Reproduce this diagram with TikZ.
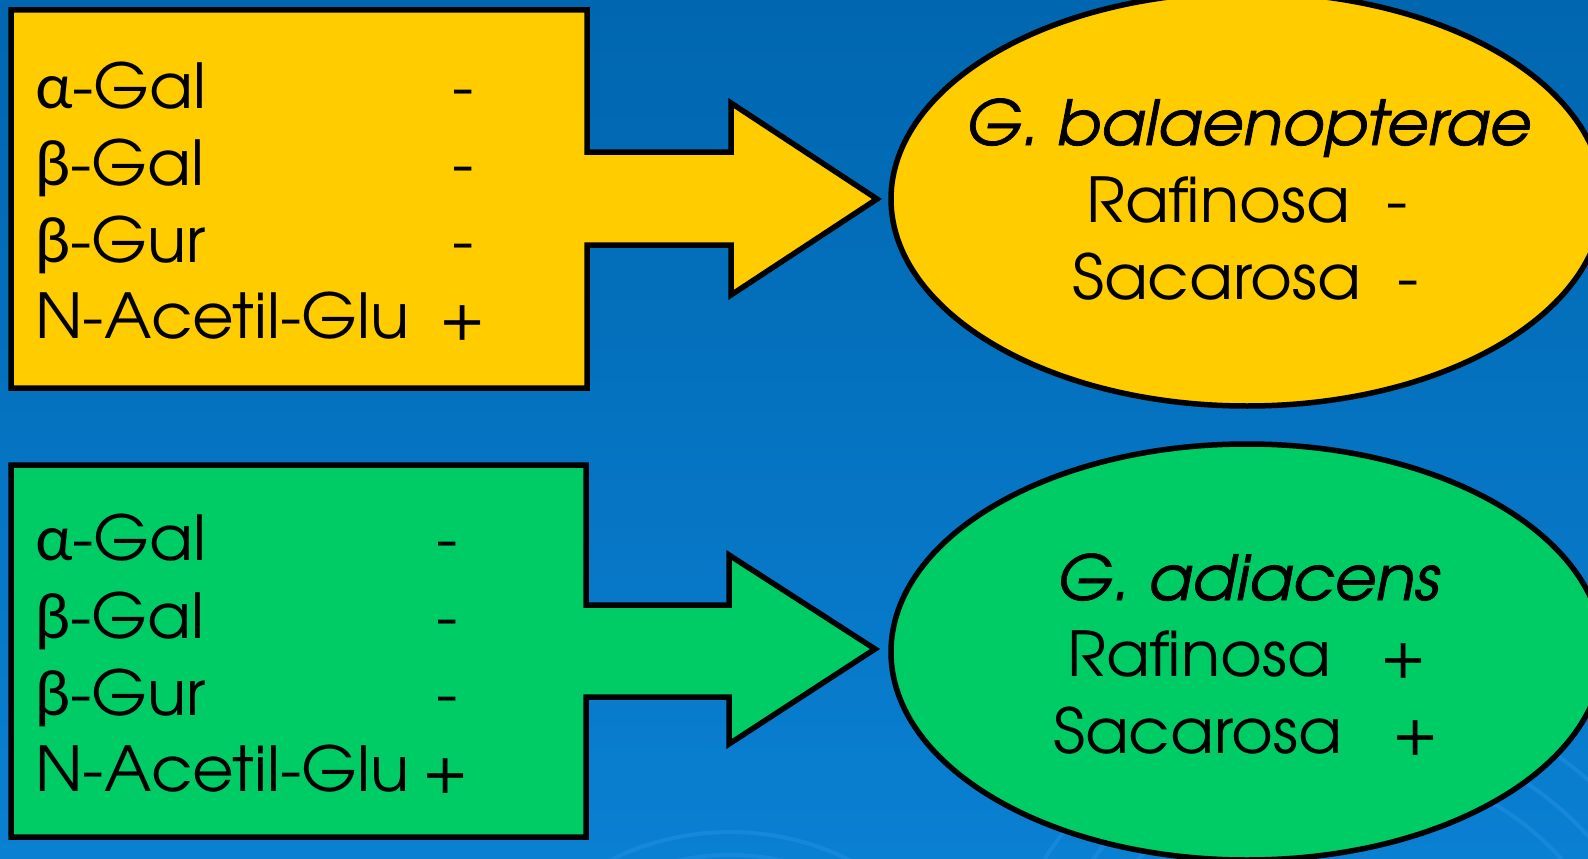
\documentclass[tikz,border=0pt]{standalone}
\usepackage{fontspec}
\setmainfont[FakeStretch=1.035,ItalicFeatures={FakeBold=1.2}]{TeX Gyre Adventor}
\newfontfamily\grk[FakeStretch=1.02]{Lato}
\usetikzlibrary{shapes.geometric}
\definecolor{bgtop}{HTML}{0066AF}
\definecolor{bgbot}{HTML}{0A80D2}
\definecolor{yel}{HTML}{FFCC00}
\definecolor{grn}{HTML}{00CC66}
\definecolor{swirl}{HTML}{2A96E8}
\begin{document}
\begin{tikzpicture}[x=1pt,y=-1pt,
  outl/.style={draw=black,line width=5.5pt,line join=miter},
  txt/.style={inner sep=0pt,font=\fontsize{62}{62}\selectfont},
  lbl/.style={txt,anchor=base west},
  sgn/.style={txt,anchor=base},
  ttl/.style={txt,anchor=base,font=\fontsize{62}{62}\selectfont\itshape},
  sw/.style={draw=swirl,line width=4pt,opacity=0.4},
]
\useasboundingbox (0,0) rectangle (1588,859);
\shade[top color=bgtop, middle color=bgtop, bottom color=bgbot] (0,0) rectangle (1588,859);
\begin{scope}
\clip (0,0) rectangle (1588,859);
\draw[sw] (1350,1050) circle[radius=320];
\draw[sw] (1350,1050) circle[radius=360];
\draw[sw] (1350,1050) circle[radius=285];
\draw[sw] (730,1100) circle[radius=268];
\draw[sw] (730,1100) circle[radius=245];
\end{scope}

% yellow callout
\draw[outl,fill=yel] (11,10) -- (587,10) -- (587,152) -- (731,152) -- (731,103)
  -- (877,199) -- (731,295) -- (731,245) -- (587,245) -- (587,388) -- (11,388) -- cycle;
% green callout
\draw[outl,fill=grn] (11,465) -- (586,465) -- (586,605) -- (729,605) -- (729,555)
  -- (875,649) -- (729,744) -- (729,697) -- (586,697) -- (586,837) -- (11,837) -- cycle;

\node[ellipse,outl,fill=yel,minimum width=712pt,minimum height=414pt,inner sep=0pt] (e1) at (1247,199) {};
\node[ellipse,outl,fill=grn,minimum width=712pt,minimum height=416pt,inner sep=0pt] (e2) at (1247,652) {};

% yellow box text
\node[lbl] (ya) at (35,108) {{\grk α}-Gal};
\node[lbl] (yb) at (35,185) {{\grk β}-Gal};
\node[lbl] (yc) at (35,262) {{\grk β}-Gur};
\node[lbl] (yd) at (35,338) {N-Acetil-Glu};
\node[sgn] (ysa) at (463,108) {-};
\node[sgn] (ysb) at (463,185) {-};
\node[sgn] (ysc) at (463,262) {-};
\node[sgn] (ysd) at (463,338) {+};

% green box text
\node[lbl] (ga) at (35,560) {{\grk α}-Gal};
\node[lbl] (gb) at (35,638) {{\grk β}-Gal};
\node[lbl] (gc) at (35,715) {{\grk β}-Gur};
\node[lbl] (gd) at (35,791) {N-Acetil-Glu};
\node[sgn] (gsa) at (447,560) {-};
\node[sgn] (gsb) at (447,638) {-};
\node[sgn] (gsc) at (447,715) {-};
\node[sgn] (gsd) at (446,791) {+};

% yellow ellipse text
\node[ttl] (t1) at (1248,145) {G. balaenopterae};
\node[lbl] (r1) at (1086,222) {Rafinosa};
\node[sgn] (r1s) at (1397,222) {-};
\node[lbl] (s1) at (1072,299) {Sacarosa};
\node[sgn] (s1s) at (1408,299) {-};

% green ellipse text
\node[ttl] (t2) at (1248,600) {G. adiacens};
\node[lbl] (r2) at (1067,676) {Rafinosa};
\node[sgn] (r2s) at (1404,676) {+};
\node[lbl] (s2) at (1053,753) {Sacarosa};
\node[sgn] (s2s) at (1416,753) {+};
\end{tikzpicture}
\end{document}
